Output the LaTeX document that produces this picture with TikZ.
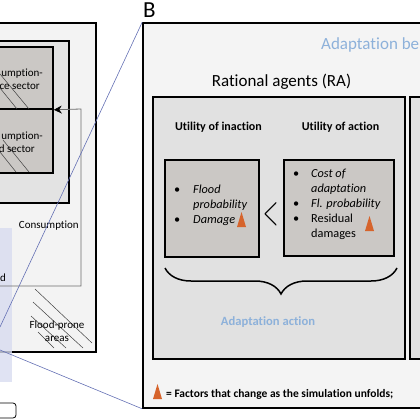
\documentclass[tikz,border=0pt]{standalone}
\usepackage{fontspec}
\setmainfont{Carlito}[Ligatures=CommonOff]
\usetikzlibrary{decorations.pathreplacing,arrows.meta}
\usepackage{xcolor}
\definecolor{paleA}{HTML}{F3F3F3}
\definecolor{midA}{HTML}{E3E3E3}
\definecolor{darkA}{HTML}{CBC8C5}
\definecolor{paleB}{HTML}{F4F4F4}
\definecolor{midB}{HTML}{E1E1E1}
\definecolor{hilite}{HTML}{D8DCF0}
\definecolor{zoomblue}{HTML}{6470B4}
\definecolor{capblue}{HTML}{8DB1DA}
\definecolor{orng}{HTML}{D6642C}
\newcommand{\chg}[2]{\fill[orng] (#1,#2) -- ++(9,0) -- ++(-4.5,-15) -- cycle;}

\begin{document}
\begin{tikzpicture}[x=1pt,y=-1pt,
  box/.style={draw,line width=1.6pt,inner sep=0pt},
  lbl/.style={inner sep=0pt,font=\fontsize{11}{13}\selectfont},
  hatch/.style={black!75,line width=0.5pt},
  zoomline/.style={zoomblue,line width=0.6pt},
  link/.style={gray!85!black,line width=0.8pt,-{Stealth[length=8pt,width=8pt,black]}},
  brc/.style={decorate,decoration={brace,mirror,amplitude=26pt},line width=1.5pt}]
\useasboundingbox (0,0) rectangle (420,420);
\clip (0,0) rectangle (420,420);
\node[box,fill=paleA,minimum width=130,minimum height=329] (outerA) at (31,187.5) {};
\node[box,fill=midA,minimum width=103,minimum height=162] (midA) at (17.5,122) {};
\node[box,fill=darkA,minimum width=87,minimum height=62] (secA) at (9.5,78) {};
\node[box,fill=darkA,minimum width=87,minimum height=64] (secB) at (9.5,141) {};
\draw[hatch] (0,88) -- (17,109) (0,74) -- (29,109);
\draw[hatch] (0,152) -- (16,172) (3,140) -- (29,172);
\node[lbl,anchor=base east] (secAt1) at (43,76) {umption-};
\node[lbl,anchor=base east] (secAt2) at (40,89) {ce sector};
\node[lbl,anchor=base east] (secBt1) at (43,139) {umption-};
\node[lbl,anchor=base east] (secBt2) at (35,152) {d sector};
\node[lbl,anchor=base east] (cons) at (79,228) {Consumption};
\node[fill=hilite,opacity=.8,inner sep=0pt,minimum width=17,minimum height=154] (zoomA) at (3.5,305) {};
\node[lbl,anchor=base west] (cutd) at (0,281) {d};
\draw[hatch] (35,289) -- (92,343) (33,302) -- (83,348) (31,316) -- (66,348) (38,332) -- (54,348);
\node[lbl,align=center,anchor=north] (flood) at (57,321) {Flood-prone\\areas};
\node[draw,rounded corners=3pt,fill=white,line width=0.8pt,minimum width=36,minimum height=15] (btn) at (-2,410.5) {};
\coordinate (feed) at (0,286);
\coordinate (turn) at (81,286);
\coordinate (up) at (81,109);
\draw[link] (feed) -- (turn) -- (up) -- (secA.south east);
\node[box,fill=paleB,minimum width=300,minimum height=385] (panelB) at (293,215.5) {};
\coordinate (zA1) at (0,327);
\coordinate (zA2) at (0,350);
\draw[zoomline] (zA1) -- (panelB.north west);
\draw[zoomline] (zA2) -- (panelB.south west);
\node[inner sep=0pt,anchor=base west,font=\fontsize{23}{23}\selectfont] (labB) at (143,18) {B};
\node[inner sep=0pt,anchor=base west,text=capblue,font=\fontsize{17}{19}\selectfont] (adbe) at (321,50) {Adaptation be};
\node[box,fill=midB,minimum width=252,minimum height=262] (ra) at (279,228) {};
\node[box,fill=midB,minimum width=40,minimum height=262] (nextB) at (430,228) {};
\node[inner sep=0pt,anchor=base,font=\fontsize{17}{19}\selectfont] (raT) at (281.5,86) {Rational agents (RA)};
\node[inner sep=0pt,anchor=base,font=\fontsize{12}{14}\bfseries] (uinT) at (218.5,130) {Utility of inaction};
\node[inner sep=0pt,anchor=base,font=\fontsize{12}{14}\bfseries] (uacT) at (340.5,130) {Utility of action};
\node[box,fill=darkA,minimum width=94,minimum height=97] (uin) at (212,208.5) {};
\node[box,fill=darkA,minimum width=110,minimum height=96] (uac) at (339,208) {};
\node[inner sep=0pt,anchor=base west,font=\fontsize{12.3}{15}\selectfont] (uinL) at (174,193) {\begin{tabular}[t]{@{}p{19pt}@{}l@{}}
\textbullet & \textit{Flood}\\
 & \textit{probability}\\
\textbullet & \textit{Damage}
\end{tabular}};
\node[inner sep=0pt,anchor=base west,font=\fontsize{12.3}{15}\selectfont] (uacL) at (293,177) {\begin{tabular}[t]{@{}p{18pt}@{}l@{}}
\textbullet & \textit{Cost of}\\
 & \textit{adaptation}\\
\textbullet & \textit{Fl. probability}\\
\textbullet & Residual\\
 & damages
\end{tabular}};
\chg{237}{227}
\chg{365}{231}
\node[inner sep=0pt] (lt) at (270.5,214) {\resizebox{15pt}{22pt}{$<$}};
\draw[brc] (165,268) -- (397,268);
\node[inner sep=0pt,anchor=base,text=capblue,font=\fontsize{12.6}{14}\bfseries] (adac) at (268,325) {Adaptation action};
\chg{153}{399}
\node[inner sep=0pt,anchor=base west,font=\fontsize{11.5}{14}\bfseries] (legend) at (166,397) {= Factors that change as the simulation unfolds;};
\end{tikzpicture}
\end{document}
